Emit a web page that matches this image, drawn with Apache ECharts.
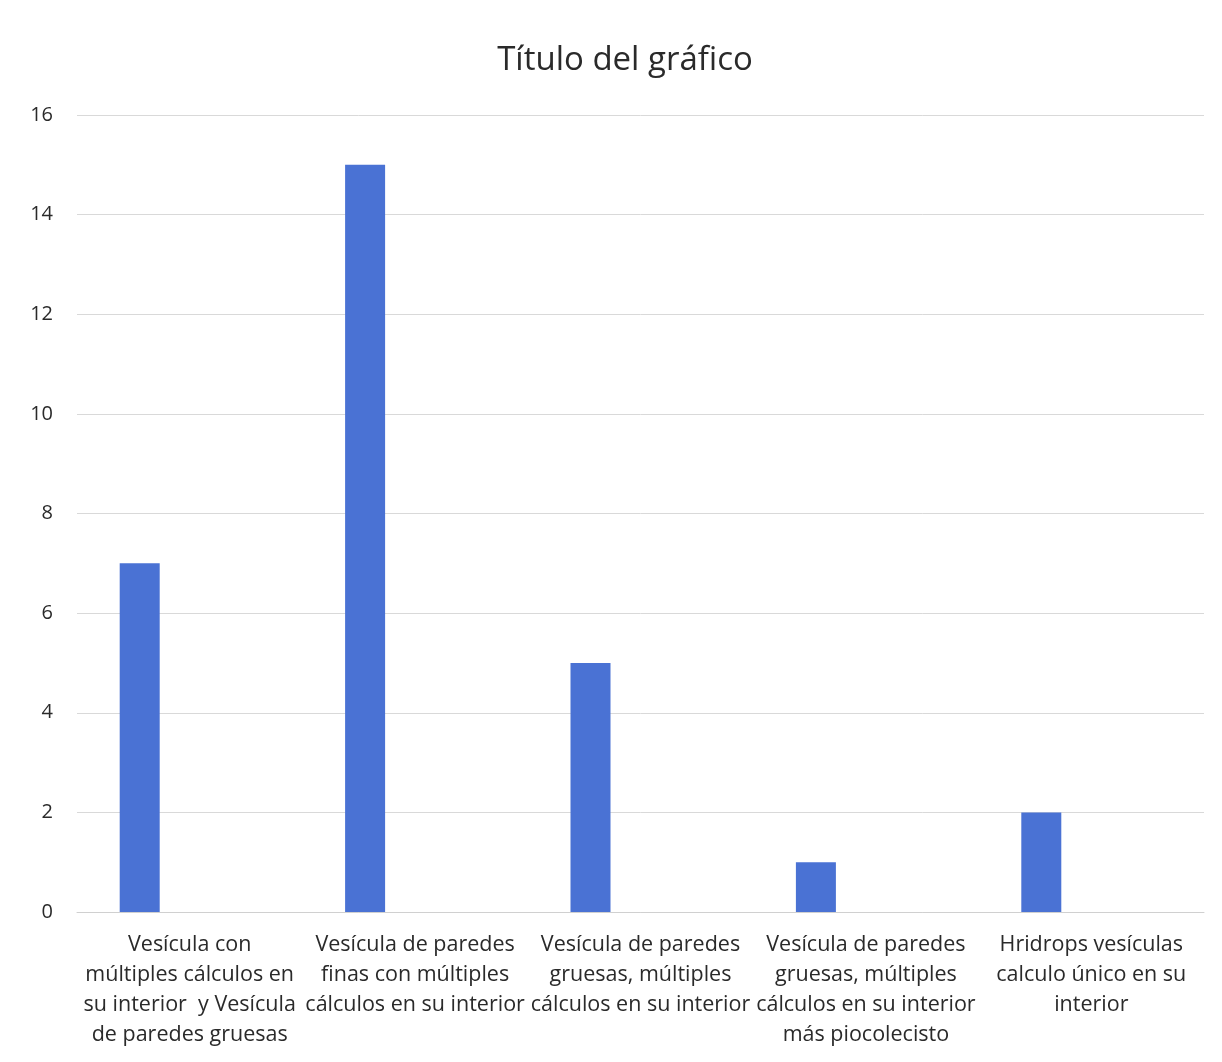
<!DOCTYPE html>
<html>
<head>
<meta charset="utf-8">
<script src="https://cdn.jsdelivr.net/npm/echarts@6/dist/echarts.min.js"></script>
<style>
html,body{margin:0;padding:0;background:#fff;}
#chart{width:1222px;height:1062px;}
</style>
</head>
<body>
<div id="chart"></div>
<script>
const categories = [
  "Vesícula con\nmúltiples cálculos en\nsu interior  y Vesícula\nde paredes gruesas",
  "Vesícula de paredes\nfinas con múltiples\ncálculos en su interior",
  "Vesícula de paredes\ngruesas, múltiples\ncálculos en su interior",
  "Vesícula de paredes\ngruesas, múltiples\ncálculos en su interior\nmás piocolecisto",
  "Hridrops vesículas\ncalculo único en su\ninterior"
];
const serie1 = [7, 15, 5, 1, 2];
const serie2 = [null, null, null, null, null];
const yTicks = { min: 0, max: 16, interval: 2 };
const chartTitle = "Título del gráfico";

const chart = echarts.init(document.getElementById('chart'));
const font = "'Open Sans', sans-serif";
chart.setOption({
  backgroundColor: '#ffffff',
  animation: false,
  title: {
    text: chartTitle,
    left: 620, textAlign: 'center', top: 39,
    textStyle: { fontFamily: font, fontSize: 33, fontWeight: 'normal', color: '#2a2a2a' }
  },
  grid: { left: 77, right: 18, top: 115, bottom: 150, containLabel: false },
  xAxis: {
    type: 'category',
    data: categories,
    axisLine: { lineStyle: { color: '#d0d0d0', width: 1 } },
    axisTick: { show: false },
    axisLabel: {
      interval: 0, margin: 18, lineHeight: 30,
      fontFamily: font, fontSize: 21.5, color: '#2a2a2a', align: 'center'
    }
  },
  yAxis: {
    type: 'value',
    min: yTicks.min, max: yTicks.max, interval: yTicks.interval,
    axisLine: { show: false },
    axisTick: { show: false },
    splitLine: { lineStyle: { color: '#d9d9d9', width: 1 } },
    axisLabel: { margin: 24, fontFamily: font, fontSize: 20, color: '#2a2a2a' }
  },
  series: [
    { name: 'Serie 1', type: 'bar', data: serie1, barWidth: 40, barGap: '150%',
      itemStyle: { color: '#4a72d4' } },
    { name: 'Serie 2', type: 'bar', data: serie2, barWidth: 40,
      itemStyle: { color: '#ed7d31' } }
  ]
});
</script>
</body>
</html>
